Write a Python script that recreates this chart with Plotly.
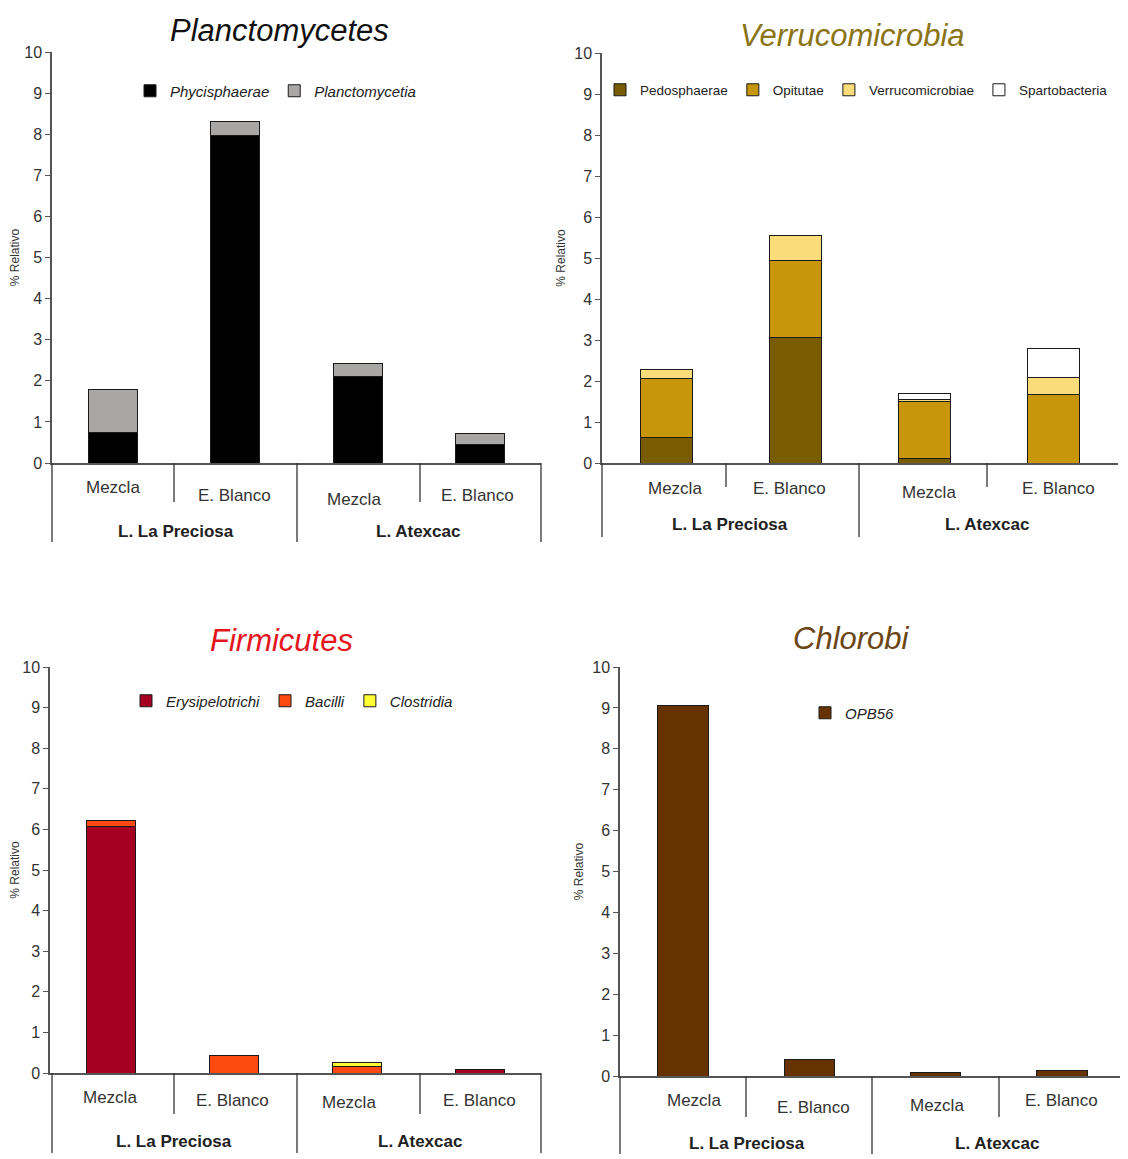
import plotly.graph_objects as go

W, H = 1128, 1159
OFF = 8  # page body margin in the browser

# ---------------- data ----------------
sites = ["L. La Preciosa", "L. La Preciosa", "L. Atexcac", "L. Atexcac"]
samples = ["Mezcla", "E. Blanco", "Mezcla", "E. Blanco"]
site_labels = ["L. La Preciosa", "L. Atexcac"]

# Planctomycetes
planc_phycisphaerae = [0.74, 7.98, 2.10, 0.46]
planc_planctomycetia = [1.06, 0.34, 0.32, 0.27]

# Verrucomicrobia
verr_pedosphaerae = [0.63, 3.07, 0.10, None]
verr_opitutae = [1.42, 1.86, 1.39, 1.68]
verr_verrucomicrobiae = [0.22, 0.61, 0.05, 0.41]
verr_spartobacteria = [None, None, 0.15, 0.71]

# Firmicutes
firm_erysipelotrichi = [6.07, None, None, 0.08]
firm_bacilli = [0.16, 0.42, 0.16, None]
firm_clostridia = [None, None, 0.09, None]

# Chlorobi
chlor_opb56 = [9.05, 0.41, 0.08, 0.13]

y_ticks = list(range(0, 11))

# ---------------- styling ----------------
NARROW = "Liberation Sans Narrow, Arial Narrow, Liberation Sans, Arial, sans-serif"
SANS = "Liberation Sans, Arial, sans-serif"

def px(x):
    return (x - OFF) / W

def py(y):
    return 1 - (y - OFF) / H

cats = [f"{s} | {m}" for s, m in zip(sites, samples)]

panels = [
    dict(  # Planctomycetes
        title="Planctomycetes", tcolor="#111111", tx=279, ty=30,
        xd=(52, 541), yd=(463, 52),
        legend_xy=(130, 91), italic=True, lfont=15,
        series=[("Phycisphaerae", planc_phycisphaerae, "#000000"),
                ("Planctomycetia", planc_planctomycetia, "#a9a6a6")],
        lines_long=[52, 297, 541], lines_short=[174, 420],
        y_long=542, y_short=(463, 502),
        lab_x=[113, 234, 354, 477], lab_y=[487, 495, 499, 495],
        site_x=[176, 418], site_y=531,
    ),
    dict(  # Verrucomicrobia
        title="Verrucomicrobia", tcolor="#8a7416", tx=852, ty=35,
        xd=(602, 1118), yd=(463, 53),
        legend_xy=(600, 90), italic=False, lfont=13.5,
        series=[("Pedosphaerae", verr_pedosphaerae, "#7a5c00"),
                ("Opitutae", verr_opitutae, "#c8960a"),
                ("Verrucomicrobiae", verr_verrucomicrobiae, "#fbdc7a"),
                ("Spartobacteria", verr_spartobacteria, "#ffffff")],
        lines_long=[602, 859], lines_short=[726, 987],
        y_long=537, y_short=(463, 487),
        lab_x=[675, 789, 929, 1058], lab_y=[488, 488, 492, 488],
        site_x=[730, 987], site_y=525,
    ),
    dict(  # Firmicutes
        title="Firmicutes", tcolor="#e3161d", tx=281, ty=640,
        xd=(50, 541), yd=(1073, 667),
        legend_xy=(126, 701), italic=True, lfont=15,
        series=[("Erysipelotrichi", firm_erysipelotrichi, "#a50021"),
                ("Bacilli", firm_bacilli, "#ff4a0f"),
                ("Clostridia", firm_clostridia, "#ffff33")],
        lines_long=[52, 297, 541], lines_short=[174, 420],
        y_long=1153, y_short=(1073, 1114),
        lab_x=[110, 232, 349, 479], lab_y=[1097, 1100, 1102, 1100],
        site_x=[174, 420], site_y=1141,
    ),
    dict(  # Chlorobi
        title="Chlorobi", tcolor="#6b4513", tx=851, ty=638,
        xd=(620, 1125), yd=(1076, 667),
        legend_xy=(805, 713), italic=True, lfont=15,
        series=[("OPB56", chlor_opb56, "#663300")],
        lines_long=[620, 872], lines_short=[746, 999],
        y_long=1154, y_short=(1076, 1117),
        lab_x=[694, 813, 937, 1061], lab_y=[1100, 1107, 1105, 1100],
        site_x=[747, 997], site_y=1143,
    ),
]

fig = go.Figure()
layout = dict(
    width=W, height=H,
    margin=dict(l=0, r=0, t=0, b=0, autoexpand=False),
    paper_bgcolor="white", plot_bgcolor="white",
    barmode="stack", bargap=0.6,
    showlegend=True,
)
annotations = []
shapes = []

for i, p in enumerate(panels, start=1):
    sfx = "" if i == 1 else str(i)
    xa, ya = "x" + sfx, "y" + sfx
    leg = "legend" + sfx
    for name, vals, col in p["series"]:
        fig.add_trace(go.Bar(
            x=cats, y=vals, name=name, xaxis=xa, yaxis=ya, legend=leg,
            marker=dict(color=col, line=dict(color="#1a1a1a", width=1)),
            hoverinfo="skip",
        ))
    layout["xaxis" + sfx] = dict(
        domain=[px(p["xd"][0]), px(p["xd"][1])], anchor=ya,
        type="category", range=[-0.5, 3.5], showticklabels=False,
        ticks="", showline=True, linecolor="#555555", linewidth=1.5,
        showgrid=False, zeroline=False, fixedrange=True, automargin=False,
    )
    layout["yaxis" + sfx] = dict(
        domain=[py(p["yd"][0]), py(p["yd"][1])], anchor=xa,
        range=[0, 10], tickvals=y_ticks, ticks="outside", ticklen=5,
        tickcolor="#555555", showline=True, linecolor="#555555", linewidth=1.5,
        showgrid=False, zeroline=False,
        tickfont=dict(family=NARROW, size=16, color="#333333"),
        title=dict(text="% Relativo", font=dict(family=SANS, size=12, color="#333333"),
                   standoff=6),
        fixedrange=True, automargin=False,
    )
    layout[leg] = dict(
        x=px(p["legend_xy"][0]), y=py(p["legend_xy"][1]),
        xanchor="left", yanchor="middle", orientation="h",
        font=dict(family=NARROW, size=p["lfont"], color="#222222",
                  style="italic" if p["italic"] else "normal"),
        bgcolor="rgba(0,0,0,0)", itemwidth=30, traceorder="normal",
        tracegroupgap=0,
    )
    # panel title
    annotations.append(dict(
        text=p["title"], x=px(p["tx"]), y=py(p["ty"]), xref="paper", yref="paper",
        showarrow=False, xanchor="center", yanchor="middle",
        font=dict(family=SANS, size=31, color=p["tcolor"], style="italic"),
    ))
    # category table
    for lx, ly, lab in zip(p["lab_x"], p["lab_y"], samples):
        annotations.append(dict(
            text=lab, x=px(lx), y=py(ly), xref="paper", yref="paper",
            showarrow=False, xanchor="center", yanchor="middle",
            font=dict(family=NARROW, size=17, color="#333333"),
        ))
    for sx, lab in zip(p["site_x"], site_labels):
        annotations.append(dict(
            text="<b>" + lab + "</b>", x=px(sx), y=py(p["site_y"]), xref="paper", yref="paper",
            showarrow=False, xanchor="center", yanchor="middle",
            font=dict(family=NARROW, size=17, color="#222222"),
        ))
    y0 = p["yd"][0]
    for lxp in p["lines_long"]:
        shapes.append(dict(type="line", xref="paper", yref="paper",
                           x0=px(lxp), x1=px(lxp), y0=py(y0), y1=py(p["y_long"]),
                           line=dict(color="#333333", width=1.3)))
    for lxp in p["lines_short"]:
        shapes.append(dict(type="line", xref="paper", yref="paper",
                           x0=px(lxp), x1=px(lxp), y0=py(p["y_short"][0]), y1=py(p["y_short"][1]),
                           line=dict(color="#333333", width=1.3)))

layout["annotations"] = annotations
layout["shapes"] = shapes
fig.update_layout(**layout)
fig.write_html("out.html")
